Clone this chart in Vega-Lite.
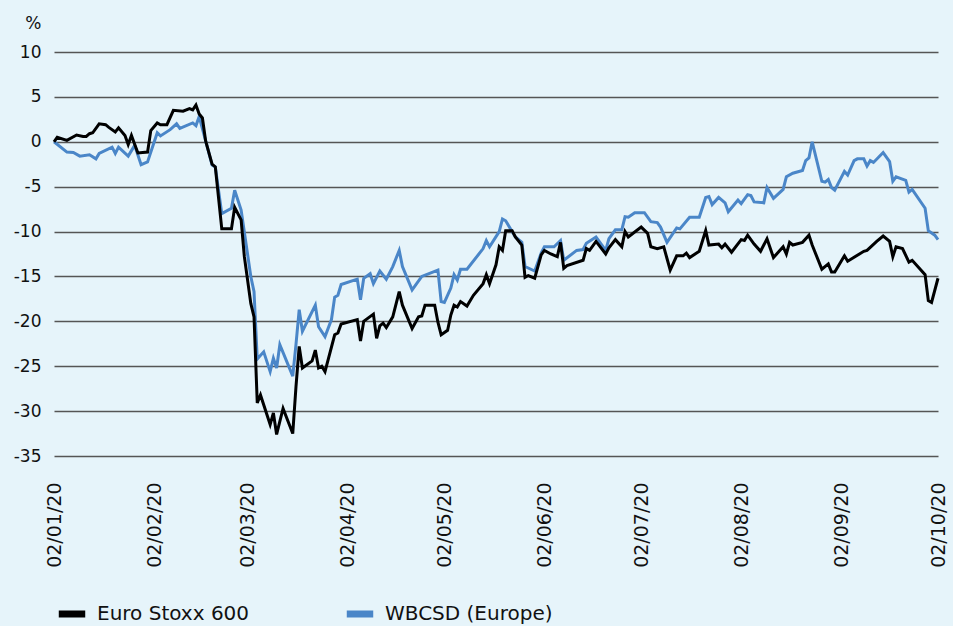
{
"$schema": "https://vega.github.io/schema/vega-lite/v6.json",
"width": 884, "height": 404,
"autosize": {"type": "none"},
"padding": {"left": 54, "top": 52, "right": 15, "bottom": 170},
"background": "#e6f4fa",
"config": {"view": {"stroke": null}, "font": "DejaVu Sans"},
"datasets": {
"wbcsd": [
{"date":"2020-01-02","value":0},{"date":"2020-01-06","value":-1.15},{"date":"2020-01-08","value":-1.2},{"date":"2020-01-10","value":-1.6},{"date":"2020-01-13","value":-1.45},{"date":"2020-01-15","value":-1.9},{"date":"2020-01-16","value":-1.3},{"date":"2020-01-20","value":-0.6},{"date":"2020-01-21","value":-1.3},{"date":"2020-01-22","value":-0.6},{"date":"2020-01-25","value":-1.6},{"date":"2020-01-27","value":-0.4},{"date":"2020-01-29","value":-2.55},{"date":"2020-01-31","value":-2.25},
{"date":"2020-02-03","value":1.0},{"date":"2020-02-04","value":0.65},{"date":"2020-02-07","value":1.35},{"date":"2020-02-09","value":2.0},{"date":"2020-02-10","value":1.5},{"date":"2020-02-14","value":2.1},{"date":"2020-02-15","value":1.8},{"date":"2020-02-16","value":2.8},{"date":"2020-02-20","value":-2.6},{"date":"2020-02-21","value":-2.8},{"date":"2020-02-23","value":-8.0},{"date":"2020-02-26","value":-7.4},{"date":"2020-02-27","value":-5.4},{"date":"2020-02-29","value":-7.6},
{"date":"2020-03-03","value":-15.0},{"date":"2020-03-04","value":-16.7},{"date":"2020-03-05","value":-24.2},{"date":"2020-03-07","value":-23.4},{"date":"2020-03-09","value":-25.6},{"date":"2020-03-10","value":-24.1},{"date":"2020-03-11","value":-25.2},{"date":"2020-03-12","value":-22.6},{"date":"2020-03-16","value":-26.1},{"date":"2020-03-17","value":-22.6},{"date":"2020-03-18","value":-18.7},{"date":"2020-03-19","value":-21.1},{"date":"2020-03-23","value":-18.2},{"date":"2020-03-24","value":-20.6},{"date":"2020-03-26","value":-21.7},{"date":"2020-03-28","value":-19.8},{"date":"2020-03-29","value":-17.3},{"date":"2020-03-30","value":-17.1},{"date":"2020-03-31","value":-15.9},
{"date":"2020-04-05","value":-15.3},{"date":"2020-04-06","value":-17.6},{"date":"2020-04-07","value":-15.2},{"date":"2020-04-09","value":-14.7},{"date":"2020-04-10","value":-15.8},{"date":"2020-04-12","value":-14.4},{"date":"2020-04-14","value":-15.3},{"date":"2020-04-16","value":-13.9},{"date":"2020-04-18","value":-12.1},{"date":"2020-04-19","value":-13.9},{"date":"2020-04-22","value":-16.5},{"date":"2020-04-25","value":-15.0},{"date":"2020-04-30","value":-14.3},
{"date":"2020-05-01","value":-17.8},{"date":"2020-05-02","value":-17.9},{"date":"2020-05-04","value":-16.3},{"date":"2020-05-05","value":-14.8},{"date":"2020-05-06","value":-15.4},{"date":"2020-05-07","value":-14.2},{"date":"2020-05-09","value":-14.2},{"date":"2020-05-14","value":-11.9},{"date":"2020-05-15","value":-11.0},{"date":"2020-05-16","value":-11.7},{"date":"2020-05-19","value":-10.0},{"date":"2020-05-20","value":-8.6},{"date":"2020-05-21","value":-8.8},{"date":"2020-05-24","value":-10.6},{"date":"2020-05-26","value":-11.2},{"date":"2020-05-27","value":-13.9},{"date":"2020-05-30","value":-14.4},
{"date":"2020-06-01","value":-12.4},{"date":"2020-06-02","value":-11.7},{"date":"2020-06-05","value":-11.7},{"date":"2020-06-07","value":-11.0},{"date":"2020-06-08","value":-13.2},{"date":"2020-06-12","value":-12.1},{"date":"2020-06-14","value":-12.0},{"date":"2020-06-15","value":-11.3},{"date":"2020-06-18","value":-10.6},{"date":"2020-06-21","value":-12.1},{"date":"2020-06-22","value":-10.8},{"date":"2020-06-24","value":-9.8},{"date":"2020-06-26","value":-9.8},{"date":"2020-06-27","value":-8.35},{"date":"2020-06-28","value":-8.4},{"date":"2020-06-30","value":-7.9},
{"date":"2020-07-03","value":-7.9},{"date":"2020-07-05","value":-8.9},{"date":"2020-07-07","value":-9.0},{"date":"2020-07-08","value":-9.5},{"date":"2020-07-10","value":-11.2},{"date":"2020-07-13","value":-9.6},{"date":"2020-07-14","value":-9.7},{"date":"2020-07-17","value":-8.4},{"date":"2020-07-20","value":-8.4},{"date":"2020-07-22","value":-6.2},{"date":"2020-07-23","value":-6.1},{"date":"2020-07-24","value":-7.0},{"date":"2020-07-26","value":-6.2},{"date":"2020-07-28","value":-6.8},{"date":"2020-07-29","value":-7.8},
{"date":"2020-08-01","value":-6.5},{"date":"2020-08-02","value":-6.9},{"date":"2020-08-04","value":-5.9},{"date":"2020-08-05","value":-6.0},{"date":"2020-08-06","value":-6.7},{"date":"2020-08-09","value":-6.8},{"date":"2020-08-10","value":-5.1},{"date":"2020-08-12","value":-6.3},{"date":"2020-08-15","value":-5.3},{"date":"2020-08-16","value":-3.9},{"date":"2020-08-18","value":-3.5},{"date":"2020-08-21","value":-3.2},{"date":"2020-08-22","value":-2.1},{"date":"2020-08-23","value":-1.8},{"date":"2020-08-24","value":0},{"date":"2020-08-27","value":-4.4},{"date":"2020-08-28","value":-4.5},{"date":"2020-08-29","value":-4.2},{"date":"2020-08-30","value":-5.1},{"date":"2020-08-31","value":-5.4},
{"date":"2020-09-03","value":-3.3},{"date":"2020-09-04","value":-3.7},{"date":"2020-09-06","value":-2.1},{"date":"2020-09-07","value":-1.9},{"date":"2020-09-09","value":-1.9},{"date":"2020-09-10","value":-2.7},{"date":"2020-09-11","value":-2.1},{"date":"2020-09-12","value":-2.3},{"date":"2020-09-15","value":-1.2},{"date":"2020-09-17","value":-2.2},{"date":"2020-09-18","value":-4.4},{"date":"2020-09-19","value":-3.9},{"date":"2020-09-22","value":-4.3},{"date":"2020-09-23","value":-5.6},{"date":"2020-09-24","value":-5.3},{"date":"2020-09-28","value":-7.4},{"date":"2020-09-29","value":-9.9},{"date":"2020-10-01","value":-10.4},{"date":"2020-10-02","value":-10.9}
],
"stoxx": [
{"date":"2020-01-02","value":0},{"date":"2020-01-03","value":0.5},{"date":"2020-01-06","value":0.15},{"date":"2020-01-09","value":0.75},{"date":"2020-01-11","value":0.6},{"date":"2020-01-12","value":0.6},{"date":"2020-01-13","value":0.9},{"date":"2020-01-14","value":1.0},{"date":"2020-01-16","value":2.0},{"date":"2020-01-18","value":1.9},{"date":"2020-01-19","value":1.6},{"date":"2020-01-21","value":1.1},{"date":"2020-01-22","value":1.55},{"date":"2020-01-24","value":0.7},{"date":"2020-01-25","value":-0.3},{"date":"2020-01-26","value":0.7},{"date":"2020-01-28","value":-1.25},{"date":"2020-01-31","value":-1.15},
{"date":"2020-02-01","value":1.25},{"date":"2020-02-03","value":2.1},{"date":"2020-02-04","value":1.9},{"date":"2020-02-06","value":1.9},{"date":"2020-02-08","value":3.5},{"date":"2020-02-11","value":3.4},{"date":"2020-02-13","value":3.7},{"date":"2020-02-14","value":3.55},{"date":"2020-02-15","value":4.1},{"date":"2020-02-16","value":3.1},{"date":"2020-02-17","value":2.65},{"date":"2020-02-18","value":0.1},{"date":"2020-02-20","value":-2.5},{"date":"2020-02-21","value":-2.8},{"date":"2020-02-23","value":-9.7},{"date":"2020-02-26","value":-9.7},{"date":"2020-02-27","value":-7.3},{"date":"2020-02-29","value":-8.7},
{"date":"2020-03-01","value":-12.8},{"date":"2020-03-03","value":-18.0},{"date":"2020-03-04","value":-19.5},{"date":"2020-03-05","value":-29.1},{"date":"2020-03-06","value":-28.2},{"date":"2020-03-09","value":-31.5},{"date":"2020-03-10","value":-30.2},{"date":"2020-03-11","value":-32.6},{"date":"2020-03-13","value":-29.7},{"date":"2020-03-16","value":-32.5},{"date":"2020-03-17","value":-27.3},{"date":"2020-03-18","value":-22.8},{"date":"2020-03-19","value":-25.2},{"date":"2020-03-22","value":-24.4},{"date":"2020-03-23","value":-23.2},{"date":"2020-03-24","value":-25.2},{"date":"2020-03-25","value":-25.0},{"date":"2020-03-26","value":-25.6},{"date":"2020-03-29","value":-21.5},{"date":"2020-03-30","value":-21.3},{"date":"2020-03-31","value":-20.3},
{"date":"2020-04-05","value":-19.8},{"date":"2020-04-06","value":-22.2},{"date":"2020-04-07","value":-20.0},{"date":"2020-04-10","value":-19.2},{"date":"2020-04-11","value":-21.9},{"date":"2020-04-12","value":-20.5},{"date":"2020-04-13","value":-20.2},{"date":"2020-04-14","value":-20.7},{"date":"2020-04-16","value":-19.5},{"date":"2020-04-18","value":-16.7},{"date":"2020-04-19","value":-18.2},{"date":"2020-04-22","value":-20.8},{"date":"2020-04-24","value":-19.5},{"date":"2020-04-25","value":-19.4},{"date":"2020-04-26","value":-18.2},{"date":"2020-04-29","value":-18.2},{"date":"2020-04-30","value":-20.1},
{"date":"2020-05-01","value":-21.5},{"date":"2020-05-03","value":-21.0},{"date":"2020-05-04","value":-19.3},{"date":"2020-05-05","value":-18.2},{"date":"2020-05-06","value":-18.4},{"date":"2020-05-07","value":-17.8},{"date":"2020-05-09","value":-18.3},{"date":"2020-05-11","value":-17.1},{"date":"2020-05-14","value":-15.8},{"date":"2020-05-15","value":-14.8},{"date":"2020-05-16","value":-15.8},{"date":"2020-05-18","value":-13.7},{"date":"2020-05-19","value":-11.7},{"date":"2020-05-20","value":-12.1},{"date":"2020-05-21","value":-9.9},{"date":"2020-05-23","value":-9.9},{"date":"2020-05-24","value":-10.6},{"date":"2020-05-26","value":-11.5},{"date":"2020-05-27","value":-15.1},{"date":"2020-05-28","value":-14.9},{"date":"2020-05-30","value":-15.2},
{"date":"2020-06-01","value":-12.6},{"date":"2020-06-02","value":-12.1},{"date":"2020-06-04","value":-12.5},{"date":"2020-06-06","value":-12.8},{"date":"2020-06-07","value":-11.2},{"date":"2020-06-08","value":-14.1},{"date":"2020-06-09","value":-13.8},{"date":"2020-06-14","value":-13.2},{"date":"2020-06-15","value":-11.9},{"date":"2020-06-16","value":-12.1},{"date":"2020-06-18","value":-11.1},{"date":"2020-06-21","value":-12.5},{"date":"2020-06-22","value":-11.8},{"date":"2020-06-24","value":-10.9},{"date":"2020-06-26","value":-11.7},{"date":"2020-06-27","value":-10.0},{"date":"2020-06-28","value":-10.6},
{"date":"2020-07-02","value":-9.5},{"date":"2020-07-04","value":-10.2},{"date":"2020-07-05","value":-11.7},{"date":"2020-07-07","value":-11.9},{"date":"2020-07-09","value":-11.7},{"date":"2020-07-10","value":-13.0},{"date":"2020-07-11","value":-14.3},{"date":"2020-07-13","value":-12.7},{"date":"2020-07-15","value":-12.7},{"date":"2020-07-16","value":-12.4},{"date":"2020-07-17","value":-12.9},{"date":"2020-07-20","value":-12.2},{"date":"2020-07-22","value":-9.9},{"date":"2020-07-23","value":-11.5},{"date":"2020-07-26","value":-11.4},{"date":"2020-07-27","value":-11.8},{"date":"2020-07-28","value":-11.4},{"date":"2020-07-30","value":-12.3},
{"date":"2020-08-02","value":-10.9},{"date":"2020-08-03","value":-11.0},{"date":"2020-08-04","value":-10.4},{"date":"2020-08-06","value":-11.4},{"date":"2020-08-08","value":-12.2},{"date":"2020-08-10","value":-10.8},{"date":"2020-08-12","value":-12.9},{"date":"2020-08-15","value":-11.7},{"date":"2020-08-16","value":-12.5},{"date":"2020-08-17","value":-11.2},{"date":"2020-08-18","value":-11.5},{"date":"2020-08-21","value":-11.2},{"date":"2020-08-23","value":-10.4},{"date":"2020-08-24","value":-11.5},{"date":"2020-08-27","value":-14.2},{"date":"2020-08-29","value":-13.6},{"date":"2020-08-30","value":-14.5},{"date":"2020-08-31","value":-14.5},
{"date":"2020-09-03","value":-12.7},{"date":"2020-09-04","value":-13.3},{"date":"2020-09-09","value":-12.2},{"date":"2020-09-10","value":-12.1},{"date":"2020-09-13","value":-11.1},{"date":"2020-09-15","value":-10.5},{"date":"2020-09-17","value":-11.1},{"date":"2020-09-18","value":-12.8},{"date":"2020-09-19","value":-11.7},{"date":"2020-09-21","value":-11.9},{"date":"2020-09-23","value":-13.4},{"date":"2020-09-24","value":-13.2},{"date":"2020-09-28","value":-14.8},{"date":"2020-09-29","value":-17.7},{"date":"2020-09-30","value":-17.9},{"date":"2020-10-02","value":-15.2}
]
},
"layer": [
{
"data": {"name": "wbcsd"},
"mark": {"type": "line", "strokeWidth": 3, "color": "#4a86c8"},
"encoding": {
"x": {"field": "date", "type": "temporal"},
"y": {"field": "value", "type": "quantitative"},
"color": {"datum": "WBCSD (Europe)"}
}
},
{
"data": {"name": "stoxx"},
"mark": {"type": "line", "strokeWidth": 3, "color": "#000000"},
"encoding": {
"x": {"field": "date", "type": "temporal"},
"y": {"field": "value", "type": "quantitative"},
"color": {"datum": "Euro Stoxx 600"}
}
}
],
"resolve": {"scale": {"color": "shared"}},
"encoding": {
"x": {"field": "date", "type": "temporal",
"scale": {"type": "utc", "domain": [{"year": 2020, "month": 1, "date": 2, "utc": true}, {"year": 2020, "month": 10, "date": 2, "utc": true}]},
"axis": {"title": null, "format": "%d/%m/%y", "labelAngle": 270, "labelFontSize": 19, "labelPadding": 26, "ticks": false, "domain": false, "grid": false, "labelColor": "#111111",
"values": [{"year": 2020, "month": 1, "date": 2, "utc": true}, {"year": 2020, "month": 2, "date": 2, "utc": true}, {"year": 2020, "month": 3, "date": 2, "utc": true}, {"year": 2020, "month": 4, "date": 2, "utc": true}, {"year": 2020, "month": 5, "date": 2, "utc": true}, {"year": 2020, "month": 6, "date": 2, "utc": true}, {"year": 2020, "month": 7, "date": 2, "utc": true}, {"year": 2020, "month": 8, "date": 2, "utc": true}, {"year": 2020, "month": 9, "date": 2, "utc": true}, {"year": 2020, "month": 10, "date": 2, "utc": true}]}},
"y": {"field": "value", "type": "quantitative",
"scale": {"domain": [-35, 10], "nice": false, "zero": false},
"axis": {"title": "%", "titleAngle": 0, "titleAlign": "right", "titleBaseline": "alphabetic", "titleX": -13, "titleY": -24, "titleFontSize": 17, "titleFontWeight": "normal", "titleColor": "#111111",
"values": [-35, -30, -25, -20, -15, -10, -5, 0, 5, 10], "labelExpr": "'' + datum.value", "grid": true, "gridColor": "#555555", "gridWidth": 1.5, "domain": false, "ticks": false, "labelPadding": 13, "labelFontSize": 17, "labelColor": "#111111"}},
"color": {"type": "nominal",
"scale": {"domain": ["Euro Stoxx 600", "WBCSD (Europe)"], "range": ["#000000", "#4a86c8"]},
"legend": {"title": null, "orient": "none", "legendX": 1, "legendY": 545, "direction": "horizontal", "symbolType": "stroke", "symbolSize": 700, "symbolStrokeWidth": 7, "labelFontSize": 20, "labelOffset": 8, "labelLimit": 400, "columnPadding": 82, "padding": 0, "labelColor": "#111111"}}
}
}
